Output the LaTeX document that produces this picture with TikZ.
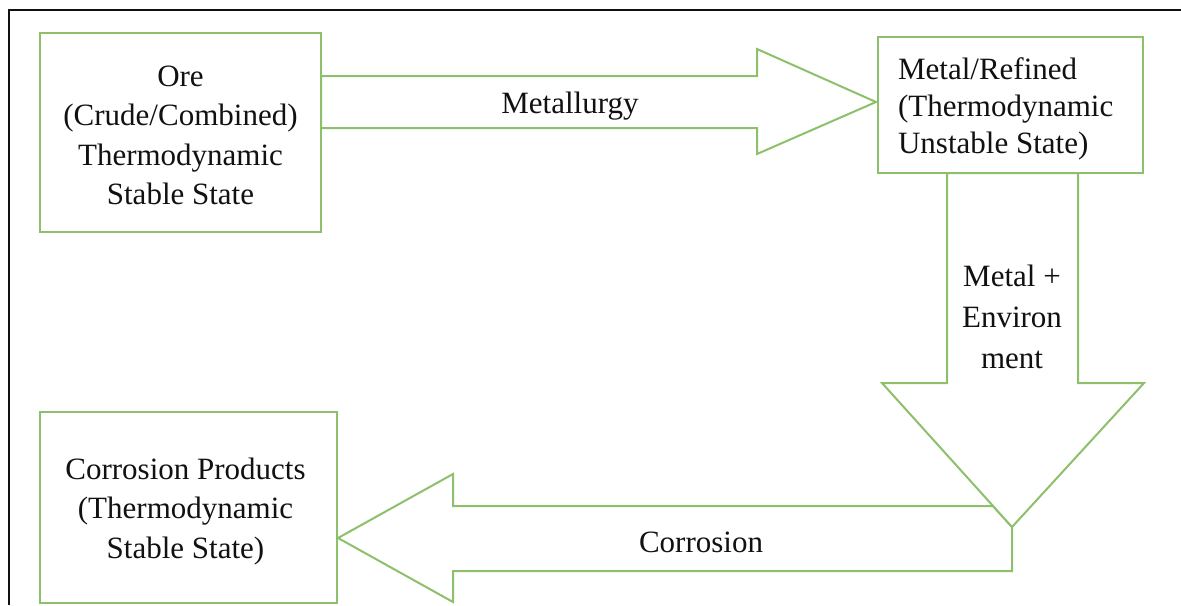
\documentclass[tikz,border=0pt]{standalone}
\usepackage{fontspec}
\setmainfont{Liberation Serif}
\usetikzlibrary{calc,positioning}
\definecolor{leaf}{HTML}{8DC06A}
\definecolor{ink}{HTML}{111111}
\definecolor{paper}{HTML}{FFFFFF}
\tikzset{
  statebox/.style={
    rectangle,
    draw=leaf,
    line width=1pt,
    fill=paper,
    inner sep=0pt
  },
  blockarrow/.style={
    draw=leaf,
    line width=1pt,
    fill=paper,
    line join=miter
  },
  labeltext/.style={
    font=\fontsize{15.5}{19.75}\selectfont,
    text=ink,
    align=center
  }
}

\begin{document}
\begin{tikzpicture}[x=0.5pt,y=-0.5pt]

  \useasboundingbox (0,0) rectangle (1181,605);

  % ============================================================
  % Frame (only top and left edges fall inside the picture)
  % ============================================================
  \draw[ink, line width=1pt] (1181,10) -- (9,10) -- (9,605);

  % ============================================================
  % Block arrows
  % ============================================================
  % ore -> metal
  \coordinate (met_top) at (757,76);
  \coordinate (met_bot) at (757,128);
  \draw[blockarrow]
       (321,76) -- (met_top) -- (757,49) -- (876,102)
       -- (757,154) -- (met_bot) -- (321,128) -- cycle;

  % metal -> corrosion (the corrosion arrow tucks under the head)
  \draw[blockarrow]
       (1012,527) -- (1012,571) -- (453,571) -- (453,602) -- (338,538)
       -- (453,474) -- (453,506) -- (993,506) -- cycle;

  \draw[blockarrow]
       (947,173) -- (947,383) -- (882,383) -- (1012,527)
       -- (1144,383) -- (1078,383) -- (1078,173) -- cycle;

  % ============================================================
  % States (boxes sit on top of the arrow ends)
  % ============================================================
  \node[statebox, minimum width=140.5pt, minimum height=99.5pt]
       (ore) at (180.5,132.5) {};
  \node[labeltext] (ore_txt) at ($(ore.center)+(0,3)$)
       {Ore\\(Crude/Combined)\\Thermodynamic\\Stable State};

  \node[statebox, minimum width=132.5pt, minimum height=68pt]
       (metal) at (1010.5,105) {};
  \node[labeltext, align=left, anchor=west,
        font=\fontsize{15.5}{18.5}\selectfont]
       (metal_txt) at ($(metal.west)+(14,4)$)
       {Metal/Refined\\(Thermodynamic\\Unstable State)};

  \node[statebox, minimum width=148.5pt, minimum height=95.5pt]
       (products) at (188.5,507.5) {};
  \node[labeltext] (products_txt) at ($(products.center)+(-3,4)$)
       {Corrosion Products\\(Thermodynamic\\Stable State)};

  % ============================================================
  % Arrow labels
  % ============================================================
  \node[labeltext] (lbl_met) at (570,106) {Metallurgy};
  \node[labeltext, font=\fontsize{15.5}{20.5}\selectfont]
       (lbl_env) at (1012,317) {Metal +\\Environ\\ment};
  \node[labeltext] (lbl_cor) at (701,542) {Corrosion};

\end{tikzpicture}
\end{document}
